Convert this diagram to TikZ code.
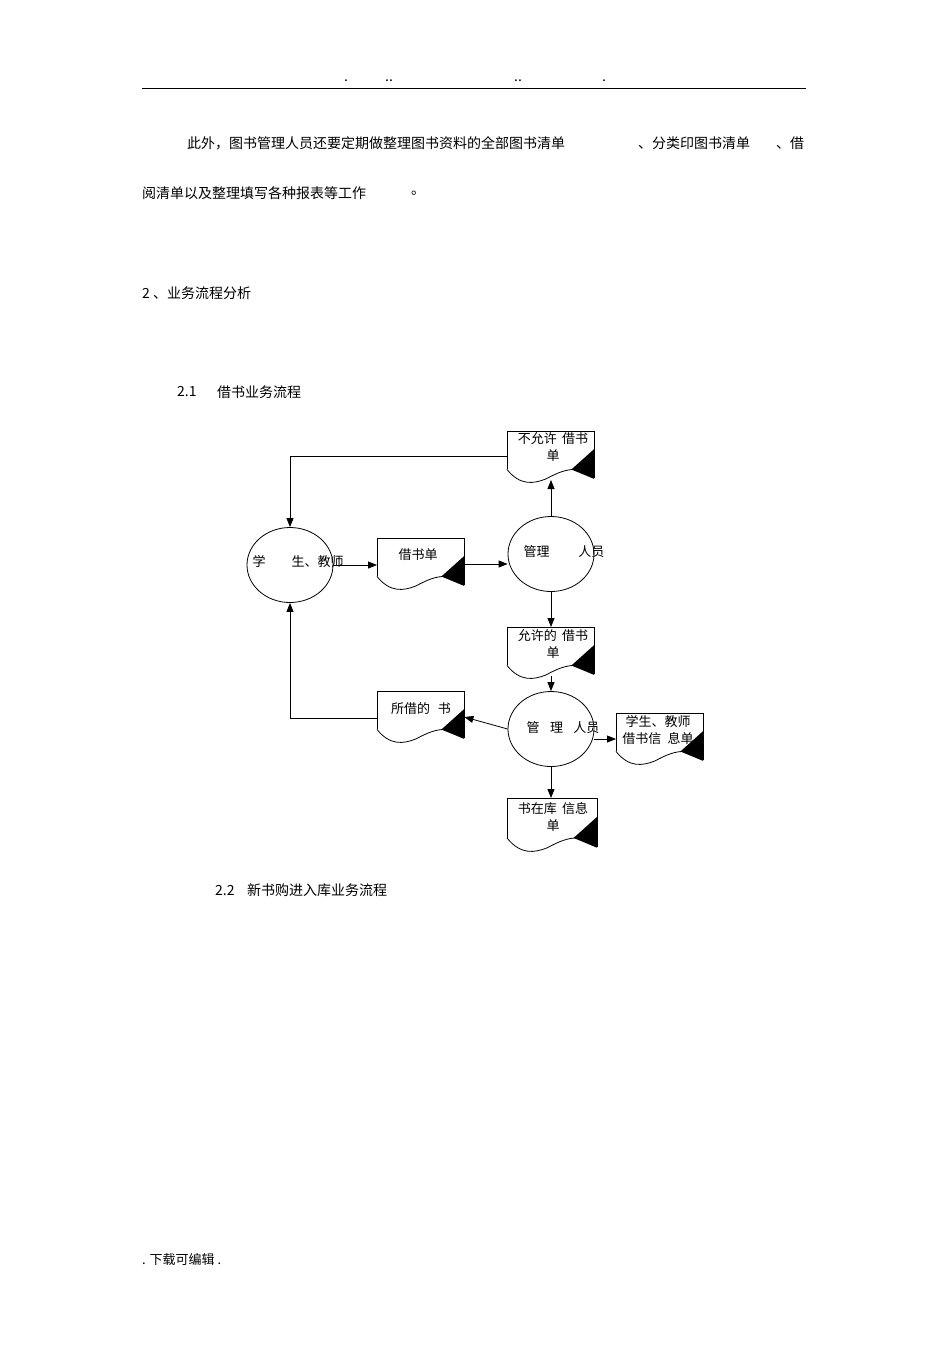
\documentclass[tikz,border=0pt]{standalone}
\usepackage{fontspec}
\setmainfont{Noto Sans CJK SC}
\usetikzlibrary{arrows.meta,shapes.geometric}
\newcommand\docshape[5]{% name, x, y (top-left), w, h
  \node[minimum width=#4pt,minimum height=#5pt,anchor=north west,inner sep=0] (#1) at (#2,#3) {};
  \begin{scope}[shift={(#2,#3)},x=#4pt,y=-#5pt]
    \draw[line width=0.8pt] (0,0.74) -- (0,0) -- (1,0) -- (1,0.9);
    \draw[line width=0.8pt] (0,0.74) .. controls (0.15,1.05) and (0.3,1.02) .. (0.45,0.92) .. controls (0.58,0.8) and (0.68,0.74) .. (0.77,0.74);
    \fill (1,0.35) -- (1,0.92) -- (0.74,0.74) -- cycle;
  \end{scope}}
\begin{document}
\begin{tikzpicture}[x=1pt,y=-1pt,
  body/.style={font=\fontsize{14}{16}\selectfont,anchor=west,inner sep=0},
  dtxt/.style={font=\fontsize{13}{17}\selectfont,align=center,inner sep=0},
  circ/.style={ellipse,draw,line width=0.8pt,minimum width=86pt,minimum height=75pt,inner sep=0},
  arr/.style={line width=0.8pt,-{Triangle[length=9pt,width=7pt]}}]
\useasboundingbox (0,0) rectangle (950,1345);
% header
\draw[line width=0.6pt] (142,88) -- (806,88);
\node[body] (h1) at (344,81) {.};
\node[body] (h2) at (385,81) {..};
\node[body] (h3) at (514,81) {..};
\node[body] (h4) at (602,81) {.};
% body text
\node[body] (t1) at (187,143) {此外，图书管理人员还要定期做整理图书资料的全部图书清单};
\node[body] (t2) at (638,143) {、分类印图书清单};
\node[body] (t3) at (776,143) {、借};
\node[body] (t4) at (142,193) {阅清单以及整理填写各种报表等工作};
\node[body] (t5) at (411,193) {。};
\node[body] (t6) at (142,293) {2 、业务流程分析};
\node[body] (t7) at (177,392) {2.1};
\node[body] (t8) at (217,392) {借书业务流程};
\node[body] (t9) at (215,890) {2.2};
\node[body] (t10) at (247,890) {新书购进入库业务流程};
\node[body,font=\fontsize{13}{15}\selectfont] (ft) at (142,1260) {. 下载可编辑 .};
% circles
\node[circ] (s) at (290,565) {};
\node[dtxt] (stx) at (298,562) {学\hspace{2em}生、教师};
\node[circ] (m1) at (551,554) {};
\node[dtxt] (m1t) at (564,552) {管理\hspace{2.2em}人员};
\node[circ] (m2) at (551,729) {};
\node[dtxt] (m2t) at (563,728) {管\hspace{0.8em}理\hspace{0.8em}人员};
% documents
\docshape{d0}{507}{431}{87}{52}
\node[dtxt] (d0t) at (553,447) {不允许\hspace{0.4em}借书\\单};
\docshape{d1}{377}{538}{87}{52}
\node[dtxt] (d1t) at (418,555) {借书单};
\docshape{d2}{507}{627}{87}{52}
\node[dtxt] (d2t) at (553,644) {允许的\hspace{0.4em}借书\\单};
\docshape{d3}{377}{691}{87}{52}
\node[dtxt] (d3t) at (421,709) {所借的\hspace{0.6em}书};
\docshape{d4}{616}{713}{87}{52}
\node[dtxt] (d4t) at (658,730) {学生、教师\\借书信\hspace{0.5em}息单};
\docshape{d5}{507}{798}{90}{54}
\node[dtxt] (d5t) at (553,817) {书在库\hspace{0.4em}信息\\单};
% connectors
\draw[arr] (s.east |- 0,565) -- (d1.west |- 0,565);
\draw[arr] (d1.east |- 0,564) -- (m1.west |- 0,564);
\coordinate (d0b) at (551,480);
\draw[arr] (m1.north) -- (d0b);
\draw[arr] (d0.west |- 0,456) -| (s.north);
\draw[arr] (m1.south) -- (d2.north -| m1.south);
\draw[arr] (551,676) -- (m2.north);
\draw[arr] (m2.west) -- (d3.east |- 0,717);
\draw[arr] (d3.west |- 0,718) -| (s.south);
\draw[arr] (m2.east |- 0,739) -- (d4.west |- 0,739);
\draw[arr] (m2.south) -- (d5.north -| m2.south);
\end{tikzpicture}
\end{document}
